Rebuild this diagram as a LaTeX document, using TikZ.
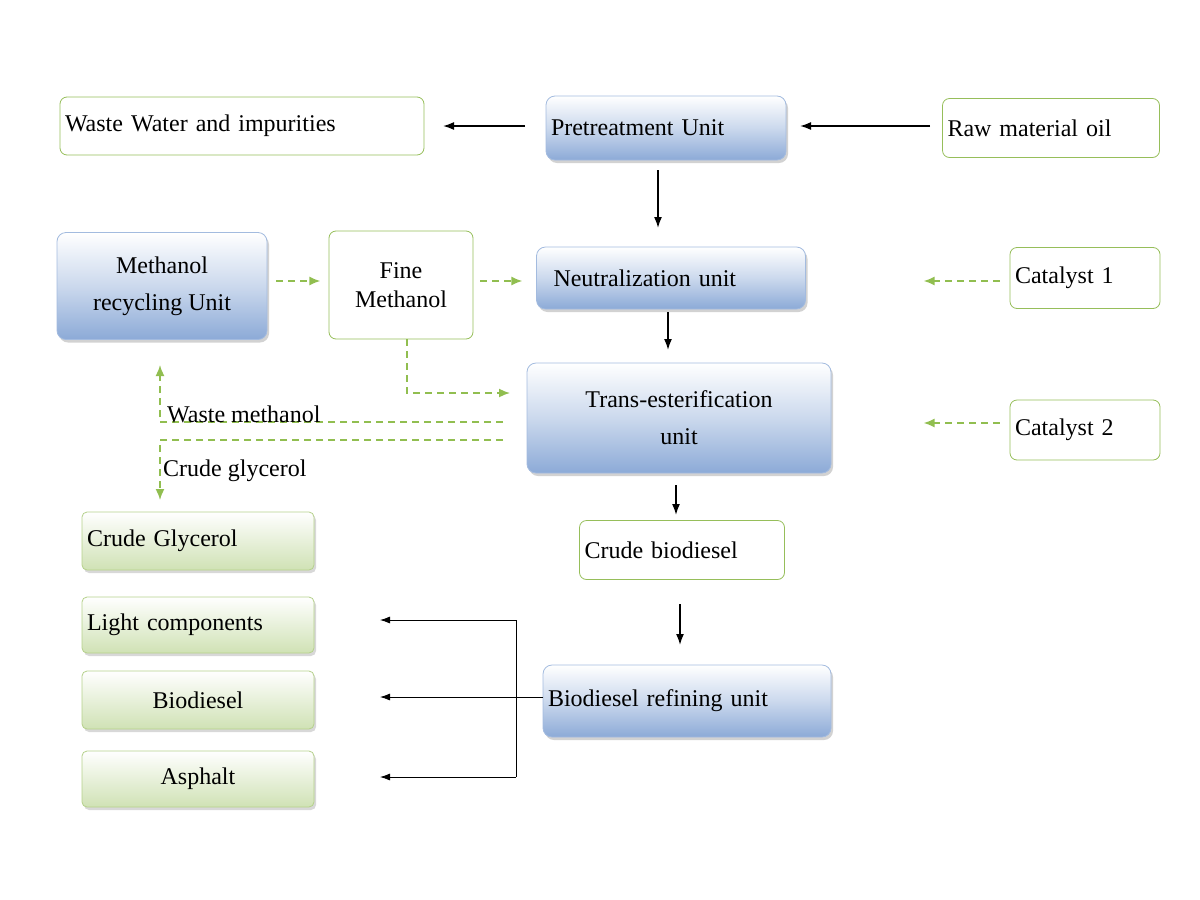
\documentclass[tikz,border=0pt]{standalone}
\usepackage{fontspec}
\setmainfont{Liberation Serif}
\usetikzlibrary{arrows.meta, shadows}
\definecolor{boxgreen}{RGB}{150,190,90}
\definecolor{unitblue}{RGB}{140,170,215}
\definecolor{linegreen}{RGB}{145,190,80}
\begin{document}
\begin{tikzpicture}[x=1pt,y=-1pt,
		font=\fontsize{24}{29}\selectfont,
		plainbox/.style={rectangle,rounded corners=7pt,draw=boxgreen,line width=0.8pt,fill=white,inner sep=5pt},
		unitbox/.style={rectangle,rounded corners=9pt,draw=unitblue!80,line width=0.8pt,
			top color=white,bottom color=unitblue,middle color=unitblue!45,
			drop shadow={shadow xshift=2pt,shadow yshift=-3pt,fill=black!35},inner sep=5pt},
		prodbox/.style={rectangle,rounded corners=5pt,draw=boxgreen!70,line width=0.8pt,
			top color=white,bottom color=boxgreen!45,
			drop shadow={shadow xshift=2pt,shadow yshift=-3pt,fill=black!30},inner sep=5pt},
		flow/.style={-{Latex[length=11pt,width=8pt]},line width=1.6pt},
		side/.style={-{Latex[length=10pt,width=7pt]},line width=0.8pt},
		feed/.style={-{Latex[length=11pt,width=9pt]},linegreen,dashed,line width=1.6pt,dash pattern=on 7pt off 5pt}
		]
		\useasboundingbox (0,0) rectangle (1200,900);

		\node[plainbox,minimum width=364pt,minimum height=58pt,text width=354pt,align=left](WW) at (242,126){Waste Water and impurities};
		\node[unitbox,minimum width=240pt,minimum height=64pt,text width=230pt,align=left](PT) at (666,128){Pretreatment Unit};
		\node[plainbox,minimum width=217pt,minimum height=59pt,text width=207pt,align=left](RM) at (1051,128){Raw material oil};

		\node[unitbox,minimum width=210pt,minimum height=107pt,align=center](MR) at (162,286){Methanol\\[8pt]recycling Unit};
		\node[plainbox,minimum width=144pt,minimum height=108pt,align=center](FM) at (401,285){Fine\\Methanol};
		\node[unitbox,minimum width=269pt,minimum height=62pt,text width=259pt,align=left](NU) at (671,278){\hspace*{12pt}Neutralization unit};
		\node[plainbox,minimum width=150pt,minimum height=61pt,text width=140pt,align=left](C1) at (1085,278){Catalyst 1};

		\node[unitbox,minimum width=304pt,minimum height=110pt,align=center](TE) at (679,418){Trans-esterification\\[8pt]unit};
		\node[plainbox,minimum width=150pt,minimum height=60pt,text width=140pt,align=left](C2) at (1085,430){Catalyst 2};

		\node[plainbox,minimum width=205pt,minimum height=59pt,text width=195pt,align=left](CB) at (682,550){Crude biodiesel};
		\node[unitbox,minimum width=288pt,minimum height=72pt,text width=278pt,align=left](BR) at (687,701){Biodiesel refining unit};

		\node[prodbox,minimum width=232pt,minimum height=58pt,text width=222pt,align=left](CG) at (198,541){Crude Glycerol};
		\node[prodbox,minimum width=232pt,minimum height=56pt,text width=222pt,align=left](LC) at (198,625){Light components};
		\node[prodbox,minimum width=232pt,minimum height=58pt,align=center](BD) at (198,700){Biodiesel};
		\node[prodbox,minimum width=232pt,minimum height=56pt,align=center](AS) at (198,779){Asphalt};

		% main flow
		\coordinate (PTl) at (525,126); \coordinate (WWa) at (443,126);
		\coordinate (RMl) at (930,126); \coordinate (PTa) at (800,126);
		\coordinate (a1) at (658,170); \coordinate (a2) at (658,228);
		\coordinate (b1) at (668,312); \coordinate (b2) at (668,350);
		\coordinate (c1) at (676,485); \coordinate (c2) at (676,515);
		\coordinate (d1) at (680,604); \coordinate (d2) at (680,645);
		\draw[flow] (PTl) -- (WWa);
		\draw[flow] (RMl) -- (PTa);
		\draw[flow] (a1) -- (a2);
		\draw[flow] (b1) -- (b2);
		\draw[flow] (c1) -- (c2);
		\draw[flow] (d1) -- (d2);

		% methanol and catalysts
		\draw[feed] (MR.east) ++(9,-5) -- ++(44,0);
		\draw[feed] (FM.east) ++(7,-4) -- ++(42,0);
		\draw[feed] (C1.west) ++(-10,3) -- ++(-76,0);
		\draw[feed] (C2.west) ++(-10,-7) -- ++(-76,0);
		\draw[feed] (FM.south) ++(6,0) |- (510,393);
		\draw[feed] (503,422) -| (160,365);
		\node[anchor=south west,inner sep=1pt] (WM) at (166,424){Waste methanol};
		\draw[feed] (503,440) -| (160,500);
		\node[anchor=north west,inner sep=1pt] (CGl) at (162,459){Crude glycerol};

		% refining products
		\coordinate (BRl) at (543,697); \coordinate (BDa) at (380,697);
		\draw[side] (BRl) -- (BDa);
		\draw[line width=0.8pt] (516,620) -- (516,777);
		\draw[side] (516,620) -- (380,620);
		\draw[side] (516,777) -- (380,777);
	\end{tikzpicture}
\end{document}
